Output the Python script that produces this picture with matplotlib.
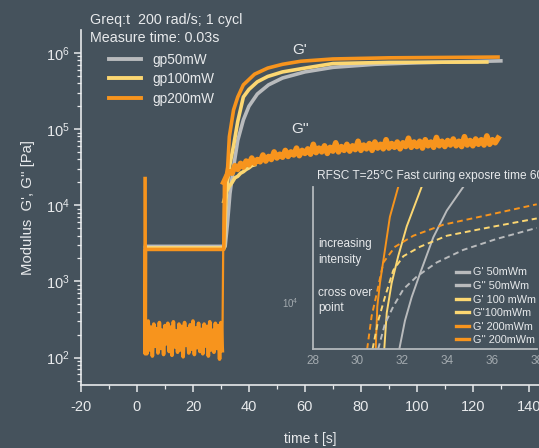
import numpy as np
import matplotlib
matplotlib.use("Agg")
import matplotlib.pyplot as plt
from matplotlib.lines import Line2D
from matplotlib.ticker import LogLocator, MultipleLocator, NullFormatter

plt.rcParams['font.family'] = ['Liberation Sans', 'DejaVu Sans']
plt.rcParams['mathtext.default'] = 'regular'
plt.rcParams['axes.unicode_minus'] = False

BG = '#45525c'
FG = '#e8eaec'
GREY = '#b9bbbd'
YELLOW = '#fcd772'
ORANGE = '#f7941d'
DIM = '#a3aaaf'

# ---- main chart data (time in s, modulus as log10 Pa) ----
gp50_t = [3.05, 31.5, 32.3, 33.2, 34.5, 36, 38, 40, 43, 47, 52, 60, 70, 85, 100, 130]
gp50_g1 = [3.46, 3.46, 3.75, 4.15, 4.50, 4.85, 5.12, 5.30, 5.46, 5.58, 5.67, 5.75, 5.81, 5.85, 5.87, 5.895]

gp100_t = [3.05, 31.2, 31.6, 32, 33, 34.5, 36, 38, 40, 43, 46.7, 52, 60, 70, 90, 125]
gp100_g1 = [3.44, 3.44, 3.90, 4.20, 4.50, 4.78, 5.10, 5.42, 5.52, 5.62, 5.69, 5.75, 5.80, 5.86, 5.875, 5.88]

gp200_t = [2.9, 2.95, 3.05, 31.0, 31.5, 32.4, 33, 34.5, 36, 38, 42, 46.7, 52, 58.5, 70, 90, 129]
gp200_g1 = [4.35, 2.05, 3.42, 3.42, 4.30, 4.50, 4.90, 5.25, 5.42, 5.58, 5.72, 5.80, 5.85, 5.89, 5.92, 5.935, 5.945]

# G'' before curing, sampled every 0.5 s from 3.0 s
g2_pre = [2.45, 2.05, 2.48, 2.10, 2.40, 2.02, 2.44, 2.15, 2.38, 2.06, 2.46, 2.12, 2.36, 2.04,
          2.42, 2.18, 2.45, 2.08, 2.40, 2.03, 2.47, 2.14, 2.35, 2.07, 2.44, 2.10, 2.41, 2.01,
          2.46, 2.16, 2.38, 2.06, 2.43, 2.11, 2.48, 2.04, 2.39, 2.13, 2.45, 2.08, 2.37, 2.05,
          2.44, 2.15, 2.41, 2.02, 2.47, 2.10, 2.36, 2.07, 2.45, 2.12, 2.42, 1.98, 2.46, 2.09]

# G'' after curing (gp200), sampled every 1 s from 31 s
g2_post = [4.30, 4.38, 4.44, 4.42, 4.52, 4.47, 4.55, 4.50, 4.58, 4.53,
           4.62, 4.55, 4.60, 4.57, 4.66, 4.58, 4.64, 4.60, 4.70, 4.62,
           4.67, 4.63, 4.72, 4.64, 4.70, 4.66, 4.75, 4.65, 4.72, 4.68,
           4.74, 4.67, 4.80, 4.69, 4.75, 4.70, 4.78, 4.68, 4.76, 4.71,
           4.82, 4.70, 4.77, 4.72, 4.80, 4.71, 4.78, 4.73, 4.84, 4.72,
           4.79, 4.74, 4.81, 4.72, 4.83, 4.75, 4.80, 4.74, 4.86, 4.75,
           4.81, 4.76, 4.83, 4.74, 4.82, 4.77, 4.88, 4.76, 4.83, 4.77,
           4.84, 4.75, 4.86, 4.78, 4.83, 4.76, 4.89, 4.78, 4.84, 4.77,
           4.85, 4.79, 4.87, 4.78, 4.84, 4.77, 4.90, 4.79, 4.85, 4.78,
           4.87, 4.80, 4.86, 4.79, 4.91, 4.80, 4.86, 4.82, 4.88]

# G'' gp100, early part (1 s steps from 31 s)
g2_gp100 = [4.05, 4.18, 4.25, 4.30, 4.36, 4.38, 4.42, 4.44, 4.47, 4.49, 4.52, 4.53]

# ---- inset data (zoom on crossover) ----
in_g1_200 = ([30.81, 30.88, 31.0, 31.22, 31.44, 31.81], [3.70, 3.97, 4.12, 4.33, 4.54, 4.73])
in_g1_100 = ([31.19, 31.30, 31.52, 31.81, 32.19, 32.85], [3.70, 3.93, 4.12, 4.29, 4.48, 4.73])
in_g1_50 = ([31.86, 32.11, 32.41, 32.78, 33.37, 33.97, 34.70], [3.70, 3.88, 4.03, 4.18, 4.41, 4.58, 4.73])
in_g2_200 = ([30.43, 30.63, 30.82, 31.15, 31.67, 32.48, 33.81, 35.74, 37.97],
             [3.70, 3.91, 4.03, 4.25, 4.35, 4.42, 4.49, 4.55, 4.62])
in_g2_100 = ([30.67, 30.92, 31.22, 31.59, 32.04, 32.78, 33.97, 35.74, 37.97],
             [3.70, 3.88, 4.03, 4.20, 4.29, 4.35, 4.42, 4.47, 4.53])
in_g2_50 = ([30.92, 31.22, 31.59, 32.04, 32.63, 33.52, 34.70, 36.19, 37.97],
            [3.70, 3.86, 3.97, 4.08, 4.16, 4.25, 4.33, 4.40, 4.47])

inset_labels = ["G' 50mWm", "G'' 50mWm", "G' 100 mWm", "G''100mWm", "G' 200mWm", "G'' 200mWm"]


def pa(v):
    return 10 ** np.asarray(v)


fig = plt.figure(figsize=(5.39, 4.48), dpi=100, facecolor=BG)
ax = fig.add_axes([0.1503, 0.1406, 0.849, 0.7924])
ax.set_facecolor(BG)

t_pre = 3.0 + 0.5 * np.arange(len(g2_pre))
t_post = 31.0 + np.arange(len(g2_post))
ax.plot(gp50_t, pa(gp50_g1), color=GREY, lw=2.6, zorder=3)
ax.plot(31.0 + np.arange(len(g2_gp100)), pa(g2_gp100), color=YELLOW, lw=2.6, zorder=4)
ax.plot(gp100_t, pa(gp100_g1), color=YELLOW, lw=2.6, zorder=4)
ax.plot(t_pre, pa(g2_pre), color=ORANGE, lw=2.6, zorder=5)
ax.plot([t_pre[-1], t_post[0]], pa([g2_pre[-1], g2_post[0]]), color=ORANGE, lw=1.6, zorder=5)
ax.plot(t_post, pa(g2_post), color=ORANGE, lw=4.0, zorder=5)
ax.plot(gp200_t, pa(gp200_g1), color=ORANGE, lw=2.6, zorder=5)

ax.set_yscale('log')
ax.set_xlim(-20, 143.5)
ax.set_ylim(10 ** 1.64, 10 ** 6.30)
ax.xaxis.set_major_locator(MultipleLocator(20))
ax.xaxis.set_minor_locator(MultipleLocator(10))
ax.yaxis.set_major_locator(LogLocator(base=10))
ax.yaxis.set_minor_locator(LogLocator(base=10, subs=np.arange(2, 10)))
ax.yaxis.set_minor_formatter(NullFormatter())
for s in ['top', 'right']:
    ax.spines[s].set_visible(False)
for s in ['left', 'bottom']:
    ax.spines[s].set_color(FG)
    ax.spines[s].set_linewidth(1.2)
ax.tick_params(which='both', direction='out', colors=FG, labelsize=10.5)
ax.tick_params(which='major', length=5, width=1.1)
ax.tick_params(which='minor', length=3, width=0.9)
ax.tick_params(axis='x', pad=6)
ax.tick_params(axis='y', pad=3)
ax.set_xlabel('time t [s]', color=FG, fontsize=10, labelpad=13)
ax.set_ylabel("Modulus  G', G'' [Pa]", color=FG, fontsize=10.7, labelpad=8)

ax.text(55.6, 10 ** 6.04, "G'", color=FG, fontsize=11, va='center', ha='left')
ax.text(55.0, 10 ** 5.0, "G''", color=FG, fontsize=11, va='center', ha='left')

fig.text(90 / 539, 1 - 20 / 448, 'Greq:t  200 rad/s; 1 cycl', color=FG, fontsize=10.3, va='center')
fig.text(90 / 539, 1 - 38 / 448, 'Measure time: 0.03s', color=FG, fontsize=10.3, va='center')

handles = [Line2D([], [], color=c, lw=2.8) for c in (GREY, YELLOW, ORANGE)]
leg = fig.legend(handles, ['gp50mW', 'gp100mW', 'gp200mW'], loc='upper left',
                 bbox_to_anchor=(102 / 539, 1 - 46 / 448), frameon=False, fontsize=9.8,
                 handlelength=2.4, handletextpad=0.8, labelspacing=0.4, borderpad=0)
for tx in leg.get_texts():
    tx.set_color(FG)

# ---- inset ----
ins = fig.add_axes([0.5798, 0.221, 0.4173, 0.3616])
ins.patch.set_alpha(0)
ins.plot(in_g1_50[0], pa(in_g1_50[1]), color=GREY, lw=1.4)
ins.plot(in_g1_100[0], pa(in_g1_100[1]), color=YELLOW, lw=1.4)
ins.plot(in_g1_200[0], pa(in_g1_200[1]), color=ORANGE, lw=1.4)
ins.plot(in_g2_50[0], pa(in_g2_50[1]), color=GREY, lw=1.4, ls=(0, (3, 2)))
ins.plot(in_g2_100[0], pa(in_g2_100[1]), color=YELLOW, lw=1.4, ls=(0, (3, 2)))
ins.plot(in_g2_200[0], pa(in_g2_200[1]), color=ORANGE, lw=1.4, ls=(0, (3, 2)))
ins.set_yscale('log')
ins.set_xlim(28, 38)
ins.set_ylim(10 ** 3.70, 10 ** 4.73)
ins.set_xticks([28, 30, 32, 34, 36, 38])
ins.set_yticks([1e4])
ins.yaxis.set_minor_locator(LogLocator(base=10, subs=[]))
for s in ['top', 'right']:
    ins.spines[s].set_visible(False)
for s in ['left', 'bottom']:
    ins.spines[s].set_color('#b3b8bc')
    ins.spines[s].set_linewidth(1.3)
ins.tick_params(which='both', length=0, colors=DIM)
ins.tick_params(axis='x', labelsize=8.5, pad=4)
ins.tick_params(axis='y', labelsize=7, pad=10)

ins.text(0.02, 1.07, 'RFSC T=25°C Fast curing exposre time 60s', transform=ins.transAxes,
         color=FG, fontsize=8.6, va='center', ha='left', clip_on=False)
ins.text(0.025, 0.60, 'increasing\nintensity', transform=ins.transAxes, color=FG,
         fontsize=8.5, va='center', ha='left', linespacing=1.4)
ins.text(0.025, 0.30, 'cross over\npoint', transform=ins.transAxes, color=FG,
         fontsize=8.5, va='center', ha='left', linespacing=1.4)

ihandles = [Line2D([], [], color=c, lw=2.4) for c in (GREY, GREY, YELLOW, YELLOW, ORANGE, ORANGE)]
ileg = fig.legend(ihandles, inset_labels, loc='upper left', bbox_to_anchor=(451 / 539, 1 - 262 / 448),
                  frameon=False, fontsize=7.8, handlelength=1.2, handletextpad=0.3,
                  labelspacing=0.33, borderpad=0)
for tx in ileg.get_texts():
    tx.set_color(FG)

fig.savefig('out.png', dpi=100, facecolor=BG)
